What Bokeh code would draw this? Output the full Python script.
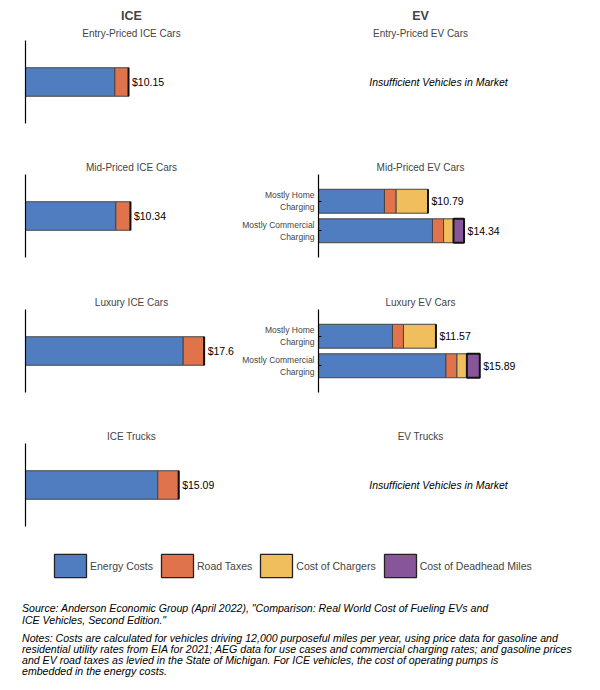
from bokeh.plotting import figure
from bokeh.models import (ColumnDataSource, FactorRange, Range1d, Label, Title,
                          Legend, LegendItem, Div, LabelSet, FixedTicker)
from bokeh.layouts import column, row
from bokeh.embed import file_html
from bokeh.resources import INLINE
from bokeh.core.properties import value

FONT = "Liberation Sans"

# ---------------- data ----------------
components = ["Energy Costs", "Road Taxes", "Cost of Chargers", "Cost of Deadhead Miles"]
colors = ["#4F7DC0", "#E0734B", "#F0BE5C", "#87569A"]

ice_header = "ICE"
ev_header = "EV"

ice_groups = ["Entry-Priced ICE Cars", "Mid-Priced ICE Cars", "Luxury ICE Cars", "ICE Trucks"]
ice_energy = [8.80, 8.90, 15.54, 13.03]
ice_road = [1.35, 1.44, 2.06, 2.06]
ice_chargers = [0.0, 0.0, 0.0, 0.0]
ice_deadhead = [0.0, 0.0, 0.0, 0.0]
ice_totals = [10.15, 10.34, 17.6, 15.09]

ev_groups = ["Entry-Priced EV Cars", "Mid-Priced EV Cars", "Luxury EV Cars", "EV Trucks"]
ev_cases = ["Mostly Home\nCharging", "Mostly Commercial\nCharging"]
no_data_note = "Insufficient Vehicles in Market"

ev_mid_energy = [6.50, 11.23]
ev_mid_road = [1.15, 1.09]
ev_mid_chargers = [3.14, 0.98]
ev_mid_deadhead = [0.00, 1.04]
ev_mid_totals = [10.79, 14.34]

ev_lux_energy = [7.29, 12.55]
ev_lux_road = [1.08, 1.09]
ev_lux_chargers = [3.20, 0.98]
ev_lux_deadhead = [0.00, 1.27]
ev_lux_totals = [11.57, 15.89]

source_lines = [
    'Source: Anderson Economic Group (April 2022), "Comparison: Real World Cost of Fueling EVs and',
    'ICE Vehicles, Second Edition."',
]
notes_lines = [
    "Notes: Costs are calculated for vehicles driving 12,000 purposeful miles per year, using price data for gasoline and",
    "residential utility rates from EIA for 2021; AEG data for use cases and commercial charging rates; and gasoline prices",
    "and EV road taxes as levied in the State of Michigan. For ICE vehicles, the cost of operating pumps is",
    "embedded in the energy costs.",
]

# ---------------- layout constants ----------------
PX_PER_DOLLAR = 10.15
FRAME_W_L = 212
FRAME_W_R = 204
FRAME_H = 83
TOPS = [40, 16, 16, 16]
BOTTOMS = [35, 36, 35, 11]
LEFT_L, RIGHT_L = 25, 0
LEFT_R, RIGHT_R = 81, 78
STACK = ["energy", "road", "chargers", "deadhead"]
LINE_COLORS = ["#444444", "#444444", "#444444", "#111111"]
LINE_WIDTHS = [1, 1, 1, 2]


def fmt(v):
    return "$" + ("%g" % v)


def base_fig(i, title, yr, left, right, fw, header=None, offset=0):
    p = figure(frame_width=fw, frame_height=FRAME_H,
               x_range=Range1d(0, fw / PX_PER_DOLLAR), y_range=yr,
               min_border_left=left, min_border_right=right,
               min_border_top=TOPS[i], min_border_bottom=BOTTOMS[i],
               toolbar_location=None, output_backend="svg",
               title=header if header else title)
    p.title.align = "center"
    p.title.text_font = FONT
    p.title.offset = offset
    p.xaxis.visible = False
    p.grid.visible = False
    p.outline_line_color = None
    if header:
        p.title.text_font_size = "12.5px"
        p.title.text_font_style = "bold"
        p.title.standoff = 3
        p.add_layout(Title(text=title, align="center", text_font=FONT,
                           text_font_size="10px", text_font_style="normal",
                           standoff=3, offset=offset), "above")
    else:
        p.title.text_font_size = "10px"
        p.title.text_font_style = "normal"
        p.title.standoff = 3
    return p


def style_yaxis(p, labels):
    ax = p.yaxis[0]
    ax.axis_line_color = "black"
    ax.axis_line_width = 1.2
    if labels:
        ax.major_label_text_font = FONT
        ax.major_label_text_font_size = "8.5px"
        ax.major_label_standoff = 4
        ax.major_tick_in = 3
        ax.major_tick_out = 0
        ax.major_tick_line_color = "black"
    else:
        ax.ticker = FixedTicker(ticks=[])
        ax.major_tick_line_color = None
        ax.minor_tick_line_color = None


def bars(p, cats, e, r, c, d, totals, height):
    src = ColumnDataSource(dict(cat=cats, energy=e, road=r, chargers=c, deadhead=d,
                                total=totals, label=[fmt(t) for t in totals]))
    p.hbar_stack(STACK, y="cat", height=height, source=src,
                 fill_color=colors, line_color=LINE_COLORS, line_width=LINE_WIDTHS)
    p.add_layout(LabelSet(x="total", y="cat", text="label", source=src, x_offset=3.5,
                          text_baseline="middle", text_align="left", text_color="black",
                          text_font=value(FONT), text_font_size="10.5px"))


rows = []
ev_data = {1: (ev_mid_energy, ev_mid_road, ev_mid_chargers, ev_mid_deadhead, ev_mid_totals),
           2: (ev_lux_energy, ev_lux_road, ev_lux_chargers, ev_lux_deadhead, ev_lux_totals)}

for i in range(4):
    # ICE panel (single bar on a numeric axis with no tick labels)
    g = ice_groups[i]
    pl = base_fig(i, g, Range1d(-0.5, 0.5), LEFT_L, RIGHT_L, FRAME_W_L,
                  header=ice_header if i == 0 else None, offset=-4)
    bars(pl, list(range(1)), [ice_energy[i]], [ice_road[i]], [ice_chargers[i]],
         [ice_deadhead[i]], [ice_totals[i]], 0.343)
    style_yaxis(pl, False)

    # EV panel
    eg = ev_groups[i]
    hdr = ev_header if i == 0 else None
    if i in ev_data:
        e, r, c, d, t = ev_data[i]
        yr = FactorRange(factors=list(reversed(ev_cases)), range_padding=0.405,
                         range_padding_units="absolute")
        pr = base_fig(i, eg, yr, LEFT_R, RIGHT_R, FRAME_W_R, header=hdr)
        bars(pr, ev_cases, e, r, c, d, t, 0.81)
        style_yaxis(pr, True)
    else:
        pr = base_fig(i, eg, Range1d(0, 1), LEFT_R, RIGHT_R, FRAME_W_R, header=hdr)
        pr.yaxis.visible = False
        pr.add_layout(Label(x=120, y=0.5, x_units="screen", text=no_data_note,
                            text_align="center", text_baseline="middle",
                            text_font=FONT, text_font_size="10.5px",
                            text_font_style="italic", text_color="black"))
    rows.append(row(pl, pr))

# ---------------- legend ----------------
lp = figure(frame_width=600, frame_height=50, min_border=0,
            x_range=Range1d(0, 1), y_range=Range1d(0, 1),
            toolbar_location=None, output_backend="svg")
lp.axis.visible = False
lp.grid.visible = False
lp.outline_line_color = None
items = []
for name, col in zip(components, colors):
    rr = lp.hbar(y=[0], right=[0], height=0.5, fill_color=col,
                 line_color="#222222", line_width=1.3)
    rr.visible = False
    items.append(LegendItem(label=name, renderers=[rr], index=0))
legend = Legend(items=items, orientation="horizontal", location=(50, 7),
                glyph_width=40, glyph_height=29, label_standoff=0, spacing=4,
                padding=0, margin=0, border_line_color=None,
                background_fill_alpha=0, label_text_font=FONT,
                label_text_font_size="10.5px")
lp.add_layout(legend, "center")

# ---------------- notes ----------------
html = ('<div style="font-family:\'Liberation Sans\';font-style:italic;font-size:10.6px;'
        'color:#000;padding:11px 0 0 17px;">'
        '<div style="line-height:11.8px;white-space:nowrap">' + "<br>".join(source_lines) + '</div>'
        '<div style="line-height:11px;margin-top:6px;white-space:nowrap">' + "<br>".join(notes_lines) + '</div>'
        '</div>')
notes = Div(text=html, width=600, height=100)

layout = column(*rows, lp, notes)
open("out.html", "w").write(file_html(layout, INLINE))
